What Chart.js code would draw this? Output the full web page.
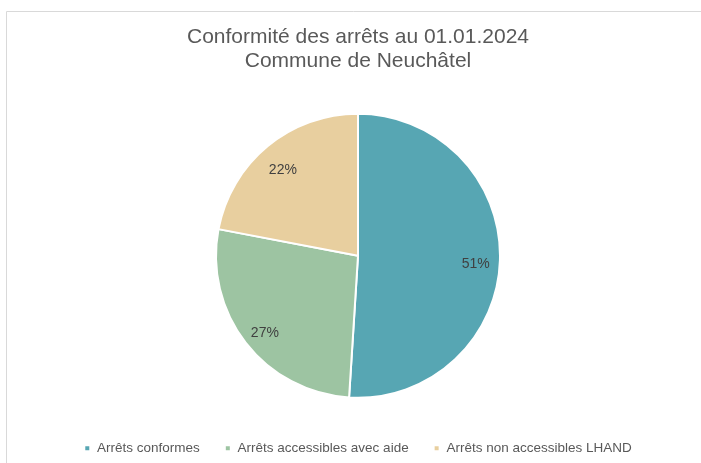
<!DOCTYPE html>
<html>
<head>
<meta charset="utf-8">
<script src="https://cdn.jsdelivr.net/npm/chart.js@4"></script>
<style>
    html, body { margin: 0; padding: 0; background: #fff; }
    #wrap { width: 701px; height: 463px; }
</style>
</head>
<body>
<div id="wrap"><canvas id="pieChart"></canvas></div>
<script>
// data
const categories = ['Arrêts conformes', 'Arrêts accessibles avec aide', 'Arrêts non accessibles LHAND'];
const shares = [51, 27, 22];
const sliceColors = ['#57a6b3', '#9dc4a2', '#e8cf9f'];
const titleLines = ['Conformité des arrêts au 01.01.2024', 'Commune de Neuchâtel'];

// light frame like the spreadsheet chart border
const framePlugin = {
    id: 'frame',
    beforeDraw(chart) {
        const c = chart.ctx;
        c.save();
        c.strokeStyle = '#d9d9d9';
        c.lineWidth = 1;
        c.beginPath();
        c.moveTo(6.5, chart.height);
        c.lineTo(6.5, 11.5);
        c.lineTo(chart.width, 11.5);
        c.stroke();
        c.restore();
    }
};

// percentage labels inside the slices
const sliceLabels = {
    id: 'sliceLabels',
    afterDatasetsDraw(chart) {
        const c = chart.ctx;
        const meta = chart.getDatasetMeta(0);
        c.save();
        c.font = '14px "Liberation Sans", Arial, sans-serif';
        c.fillStyle = '#404040';
        c.textAlign = 'center';
        c.textBaseline = 'middle';
        meta.data.forEach((arc, i) => {
            const p = arc.getProps(['x', 'y', 'startAngle', 'endAngle', 'outerRadius'], true);
            const mid = (p.startAngle + p.endAngle) / 2;
            const r = p.outerRadius * 0.83;
            c.fillText(shares[i] + '%', p.x + Math.cos(mid) * r, p.y + Math.sin(mid) * r + 5);
        });
        c.restore();
    }
};

const ctx = document.getElementById('pieChart').getContext('2d');
new Chart(ctx, {
    type: 'pie',
    data: {
        labels: categories,
        datasets: [{
            data: shares,
            backgroundColor: sliceColors,
            borderColor: '#ffffff',
            borderWidth: 2,
            radius: 142
        }]
    },
    options: {
        responsive: true,
        maintainAspectRatio: false,
        animation: false,
        layout: {
            padding: { top: 20, left: 15, right: 0, bottom: -2 }
        },
        plugins: {
            title: {
                display: true,
                text: titleLines,
                color: '#595959',
                font: { family: '"Liberation Sans", Arial, sans-serif', size: 21, weight: 'normal', lineHeight: 24 / 21 },
                padding: { top: 5, bottom: 22 }
            },
            legend: {
                position: 'bottom',
                labels: {
                    color: '#595959',
                    font: { family: '"Liberation Sans", Arial, sans-serif', size: 13.5 },
                    boxWidth: 6,
                    boxHeight: 6,
                    padding: 25
                }
            },
            tooltip: { enabled: false }
        }
    },
    plugins: [framePlugin, sliceLabels]
});
</script>
</body>
</html>
